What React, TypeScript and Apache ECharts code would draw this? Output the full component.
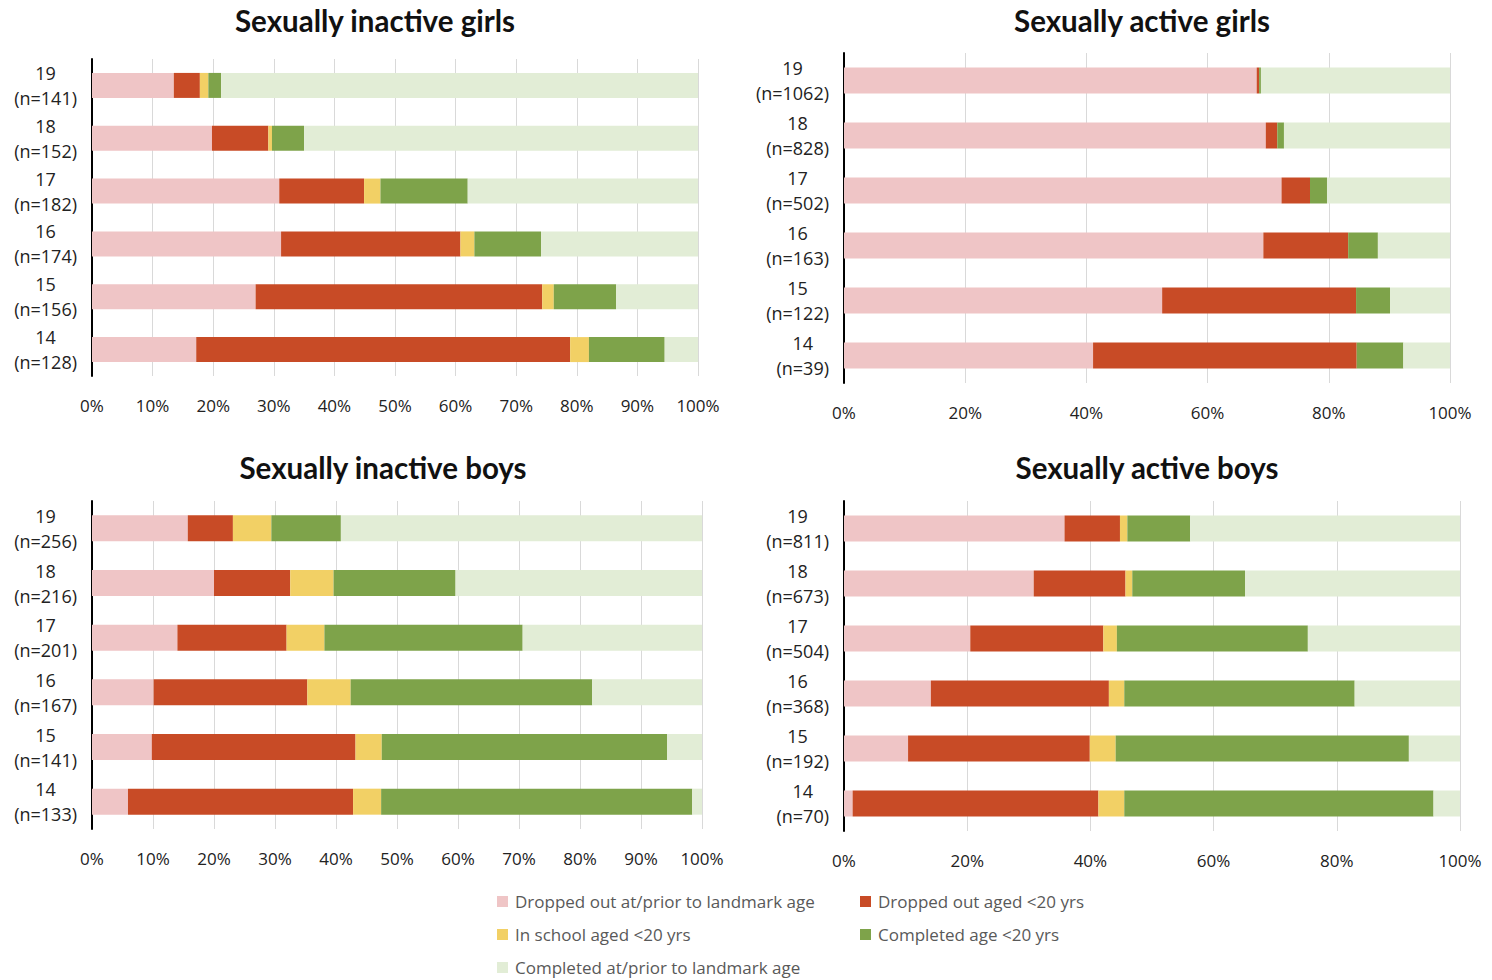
import React, { useEffect, useRef } from "react";
import * as echarts from "echarts";

const ages = ["19", "18", "17", "16", "15", "14"];

const seriesNames = [
  "Dropped out at/prior to landmark age",
  "Dropped out aged <20 yrs",
  "In school aged <20 yrs",
  "Completed age <20 yrs",
  "Completed at/prior to landmark age",
];
const colors = ["#EFC5C6", "#C84B26", "#F2D065", "#7EA34A", "#E2EDD6"];

const panelTitles = [
  "Sexually inactive girls",
  "Sexually active girls",
  "Sexually inactive boys",
  "Sexually active boys",
];

// n per age (19..14)
const igN = [141, 152, 182, 174, 156, 128];
const agN = [1062, 828, 502, 163, 122, 39];
const ibN = [256, 216, 201, 167, 141, 133];
const abN = [811, 673, 504, 368, 192, 70];

// Sexually inactive girls (%)
const igDropPrior = [13.5, 19.8, 30.9, 31.2, 27.0, 17.2];
const igDropLater = [4.3, 9.3, 14.0, 29.6, 47.3, 61.7];
const igInSchool = [1.4, 0.6, 2.7, 2.3, 1.9, 3.1];
const igCompLater = [2.1, 5.3, 14.4, 11.0, 10.3, 12.5];
const igCompPrior = [78.7, 65.0, 38.0, 25.9, 13.5, 5.5];

// Sexually active girls (%)
const agDropPrior = [68.1, 69.6, 72.2, 69.2, 52.5, 41.1];
const agDropLater = [0.4, 1.9, 4.7, 14.0, 32.0, 43.5];
const agInSchool = [0, 0, 0, 0, 0, 0];
const agCompLater = [0.3, 1.1, 2.8, 4.9, 5.6, 7.7];
const agCompPrior = [31.2, 27.4, 20.3, 11.9, 9.9, 7.7];

// Sexually inactive boys (%)
const ibDropPrior = [15.7, 20.0, 14.0, 10.1, 9.8, 5.9];
const ibDropLater = [7.4, 12.5, 17.9, 25.2, 33.4, 36.9];
const ibInSchool = [6.3, 7.1, 6.2, 7.1, 4.3, 4.6];
const ibCompLater = [11.4, 20.0, 32.5, 39.6, 46.8, 51.0];
const ibCompPrior = [59.2, 40.4, 29.4, 18.0, 5.7, 1.6];

// Sexually active boys (%)
const abDropPrior = [35.8, 30.8, 20.5, 14.1, 10.4, 1.4];
const abDropLater = [9.0, 14.9, 21.6, 28.9, 29.5, 39.9];
const abInSchool = [1.2, 1.1, 2.2, 2.5, 4.2, 4.2];
const abCompLater = [10.2, 18.3, 31.0, 37.4, 47.6, 50.2];
const abCompPrior = [43.8, 34.9, 24.7, 17.1, 8.3, 4.3];

const xIntervals = [10, 20, 10, 20];

export default function App() {
  const ref = useRef<HTMLDivElement>(null);

  useEffect(() => {
    document.body.style.margin = "0";
    if (!ref.current) return;
    const chart = echarts.init(ref.current, undefined, { renderer: "svg" });

    const panels = [
      { n: igN, data: [igDropPrior, igDropLater, igInSchool, igCompLater, igCompPrior] },
      { n: agN, data: [agDropPrior, agDropLater, agInSchool, agCompLater, agCompPrior] },
      { n: ibN, data: [ibDropPrior, ibDropLater, ibInSchool, ibCompLater, ibCompPrior] },
      { n: abN, data: [abDropPrior, abDropLater, abInSchool, abCompLater, abCompPrior] },
    ];

    const grids = [
      { left: 92, top: 59, width: 606, height: 317 },
      { left: 844, top: 53, width: 606, height: 330 },
      { left: 92, top: 501, width: 610, height: 328 },
      { left: 844, top: 501, width: 616, height: 330 },
    ];
    const titlePos = [
      [375, 20],
      [1142, 20],
      [383, 467],
      [1147, 467],
    ];
    const barWidths = [25, 26, 26, 26];
    const font = "'Open Sans', sans-serif";

    const xAxis = panels.map((_, i) => ({
      type: "value",
      gridIndex: i,
      min: 0,
      max: 100,
      interval: xIntervals[i],
      axisLine: { show: false },
      axisTick: { show: false },
      splitLine: { show: true, lineStyle: { color: "#D9D9D9", width: 1 } },
      axisLabel: {
        formatter: "{value}%",
        color: "#222",
        fontSize: 17,
        fontFamily: font,
        margin: 21,
      },
    }));

    const yAxis = panels.map((p, i) => ({
      type: "category",
      gridIndex: i,
      inverse: true,
      data: ages.map((a, k) => `{c|${a}}\n{c|(n=${p.n[k]})}`),
      axisLine: { show: true, lineStyle: { color: "#000", width: 2 } },
      axisTick: { show: false },
      splitLine: { show: false },
      axisLabel: {
        align: "right",
        margin: 15,
        color: "#222",
        fontSize: 18,
        fontFamily: font,
        lineHeight: 25,
        rich: {
          c: { align: "center", fontSize: 18, fontFamily: font, color: "#222", lineHeight: 25 },
        },
      },
    }));

    const series: any[] = [];
    panels.forEach((p, i) => {
      p.data.forEach((vals, s) => {
        series.push({
          type: "bar",
          name: seriesNames[s],
          xAxisIndex: i,
          yAxisIndex: i,
          stack: "p" + i,
          barWidth: barWidths[i],
          itemStyle: { color: colors[s] },
          data: vals,
        });
      });
    });

    const legendPos = [
      [497, 893],
      [860, 893],
      [497, 926],
      [860, 926],
      [497, 959],
    ];
    const legend = seriesNames.map((name, s) => ({
      data: [name],
      left: legendPos[s][0],
      top: legendPos[s][1],
      padding: 0,
      icon: "rect",
      itemWidth: 11,
      itemHeight: 11,
      selectedMode: false,
      textStyle: { color: "#595959", fontSize: 17, fontFamily: font, padding: [0, 0, 0, 2] },
    }));

    const graphic = panelTitles.map((t, i) => ({
      type: "text",
      x: titlePos[i][0],
      y: titlePos[i][1],
      style: {
        text: t,
        align: "center",
        verticalAlign: "middle",
        fontSize: 29.5,
        fontWeight: "bold",
        fontFamily: "Lato, sans-serif",
        fill: "#111",
      },
    }));

    chart.setOption({
      animation: false,
      backgroundColor: "#fff",
      grid: grids,
      xAxis,
      yAxis,
      series,
      legend,
      graphic,
    });

    return () => chart.dispose();
  }, []);

  return <div ref={ref} style={{ width: 1492, height: 980 }} />;
}
